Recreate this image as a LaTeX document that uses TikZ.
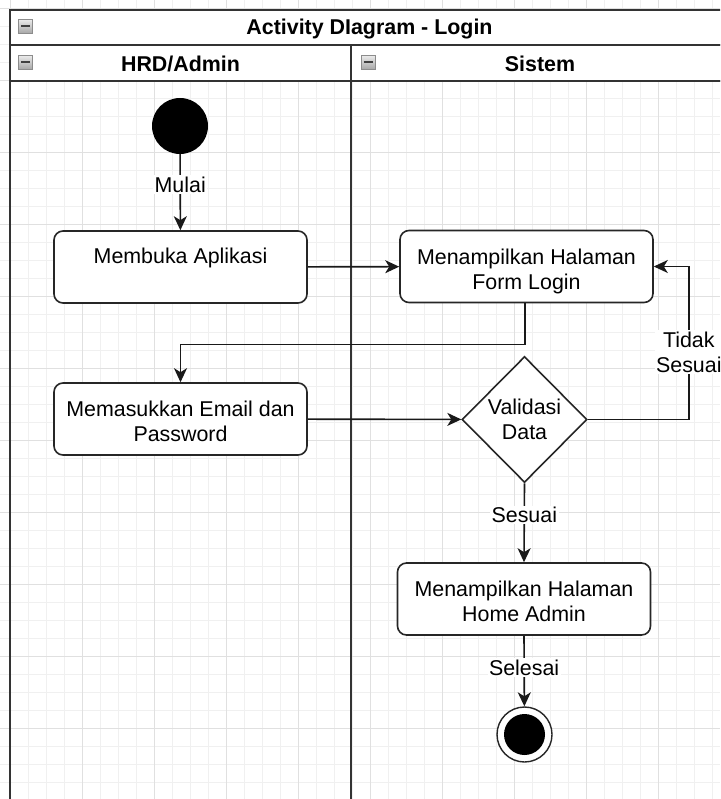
\documentclass[tikz,border=0pt]{standalone}
\usepackage{fontspec}
\setmainfont{Liberation Sans}
\usetikzlibrary{shapes.geometric, arrows.meta}

\tikzset{
  gridminor/.style={draw=black!6, line width=0.8pt},
  gridmajor/.style={draw=black!12, line width=0.9pt},
  frame/.style={draw=black!80, line width=2pt},
  headbar/.style={frame, fill=white},
  headtext/.style={font=\fontsize{21.4}{25}\selectfont\bfseries, inner sep=0pt},
  collapsebox/.style={draw=black!45, line width=0.6pt, top color=black!8, bottom color=black!35,
    minimum size=14pt, inner sep=0pt,
    path picture={\draw[black!75, line width=2pt]
      ([xshift=-4.5pt]path picture bounding box.center) -- ([xshift=4.5pt]path picture bounding box.center);}},
  actbox/.style={draw=black!85, line width=1.6pt, rounded corners=9pt, fill=white,
    minimum width=253pt, minimum height=72pt, inner sep=0pt},
  boxtext/.style={align=center, inner sep=0pt, yshift=-5pt},
  decision/.style={diamond, draw=black!85, line width=1.6pt, fill=white,
    minimum width=125pt, minimum height=126pt, inner sep=0pt},
  startdot/.style={circle, fill=black, minimum size=56pt, inner sep=0pt},
  enddot/.style={circle, draw=black!85, line width=1.4pt, fill=white, minimum size=55pt, inner sep=0pt,
    path picture={\fill[black] (path picture bounding box.center) circle (20.5pt);}},
  flow/.style={draw=black!90, line width=1.6pt, -{Stealth[length=14pt,width=13pt,inset=4pt]}},
  flowlabel/.style={fill=white, inner sep=1.5pt, align=center}
}

\begin{document}
\begin{tikzpicture}[x=1pt, y=-1pt, font=\fontsize{21.4}{25}\selectfont]
  \useasboundingbox (0,0) rectangle (720,799);
  \clip (0,0) rectangle (720,799);
  \fill[white] (0,0) rectangle (720,799);

  % background grid
  \foreach \k in {0,...,40} {
    \draw[gridminor] ({10+18*\k},0) -- ({10+18*\k},799);
  }
  \foreach \k in {-1,...,44} {
    \draw[gridminor] (0,{8+18*\k}) -- (720,{8+18*\k});
  }
  \foreach \k in {0,...,10} {
    \draw[gridmajor] ({10+72*\k},0) -- ({10+72*\k},799);
    \draw[gridmajor] (0,{8+72*\k}) -- (720,{8+72*\k});
  }

  % pool and swimlanes
  \draw[frame] (10,81) rectangle (351,830);
  \draw[frame] (351,81) rectangle (729,830);
  \draw[headbar] (10,10) rectangle (729,45);
  \draw[headbar] (10,45) rectangle (351,81);
  \draw[headbar] (351,45) rectangle (729,81);

  \node[headtext] (pooltitle) at (369.5,29) {Activity DIagram - Login};
  \node[headtext] (lanehrd) at (180.5,64) {HRD/Admin};
  \node[headtext] (lanesys) at (540,64) {Sistem};

  \node[collapsebox] (ic1) at (25.5,26.5) {};
  \node[collapsebox] (ic2) at (25.5,62.5) {};
  \node[collapsebox] (ic3) at (368,62.5) {};

  % activities
  \node[startdot] (start) at (180,126) {};
  \node[actbox, label={[boxtext]center:Membuka Aplikasi\\[0pt]\strut}] (buka) at (180.5,267) {};
  \node[actbox, label={[boxtext]center:Menampilkan Halaman\\Form Login}] (form) at (526.5,266.5) {};
  \node[actbox, label={[boxtext, yshift=3pt]center:Memasukkan Email dan\\Password}] (masuk) at (180.5,419) {};
  \node[decision, label={[align=center, inner sep=0pt]center:Validasi\\Data}] (valid) at (524.5,419.5) {};
  \node[actbox, label={[boxtext, yshift=3pt]center:Menampilkan Halaman\\Home Admin}] (home) at (524,599) {};
  \node[enddot] (finish) at (524.5,734.5) {};

  % control flow
  \draw[flow] (start) -- node[flowlabel, pos=0.4] {Mulai} (buka);
  \draw[flow] (buka) -- (form);
  \draw[flow] ([xshift=-1.5pt]form.south) -- ++(0,41) -| (masuk.north);
  \draw[flow] (masuk) -- (valid);
  \draw[flow] (valid.east) -| ([xshift=35pt]form.east)
    node[flowlabel, pos=0.72] {Tidak\\Sesuai} -- (form.east);
  \draw[flow] (valid.south) -- node[flowlabel, pos=0.4] {Sesuai} (home.north);
  \draw[flow] (home.south) -- node[flowlabel, pos=0.45] {Selesai} (finish);
\end{tikzpicture}
\end{document}
